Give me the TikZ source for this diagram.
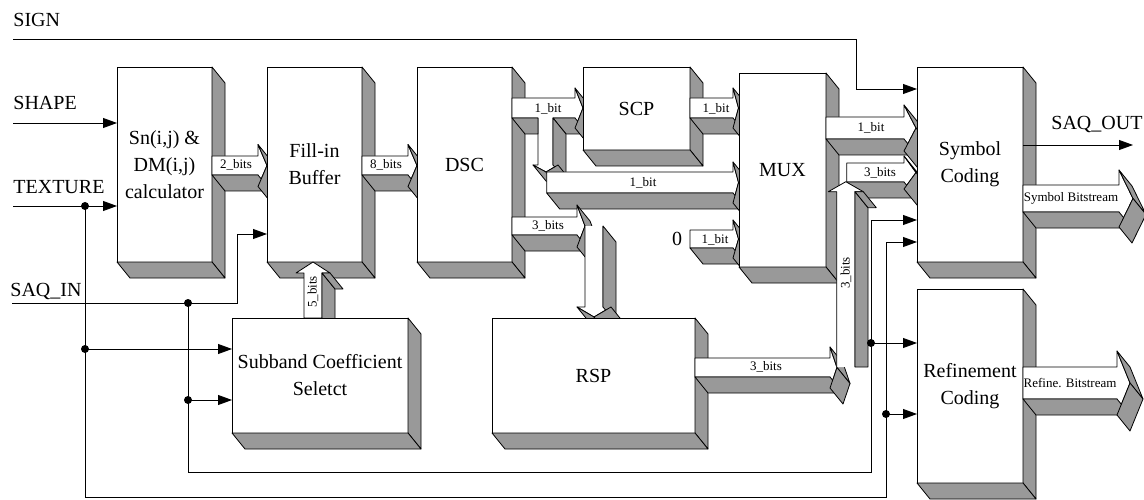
\documentclass[tikz,border=0pt]{standalone}
\usepackage{fontspec}
\setmainfont{Liberation Serif}
\usetikzlibrary{calc,arrows.meta}
\definecolor{sh}{RGB}{153,153,153}
\newcommand\bigf{\fontsize{20}{27}\selectfont}
\newcommand\smf{\fontsize{13}{15}\selectfont}
% visible side face of an extruded edge
\newcommand\sface[2]{\filldraw[sf] #1 -- #2 -- ($#2+(13,16)$) -- ($#1+(13,16)$) -- cycle;}
\newcommand\boxfaces[1]{\sface{(#1.north east)}{(#1.south east)}\sface{(#1.south west)}{(#1.south east)}}
% right pointing 3D arrow: tail x, base x, tip x, top y, bottom y, barb
\newcommand\RArrow[6]{%
 \pgfmathsetmacro\ymid{(#4+#5)/2}%
 \pgfmathsetmacro\ytp{#4-#6}%
 \pgfmathsetmacro\ybt{#5+#6}%
 \filldraw[fr] (#1,#4) -- (#2,#4) -- (#2,\ytp) -- (#3,\ymid) -- (#2,\ybt) -- (#2,#5) -- (#1,#5) -- cycle;
 \sface{(#2,\ytp)}{(#3,\ymid)}
 \sface{(#1,#5)}{(#2,#5)}
 \sface{(#3,\ymid)}{(#2,\ybt)}
}
% up pointing 3D arrow: tail y, base y, tip y, left x, right x, barb
\newcommand\UArrow[6]{%
 \pgfmathsetmacro\xmid{(#4+#5)/2}%
 \pgfmathsetmacro\xlb{#4-#6}%
 \pgfmathsetmacro\xrb{#5+#6}%
 \filldraw[fr] (#4,#1) -- (#4,#2) -- (\xlb,#2) -- (\xmid,#3) -- (\xrb,#2) -- (#5,#2) -- (#5,#1) -- cycle;
 \sface{(#5,#2)}{(#5,#1)}
 \sface{(\xrb,#2)}{(#5,#2)}
}
\begin{document}
\begin{tikzpicture}[x=1pt,y=-1pt,line width=0.8pt,
 sf/.style={fill=sh,draw=black,line join=round},
 fr/.style={fill=white,draw=black,line join=round},
 box/.style={draw,fill=white,inner sep=0pt,outer sep=0pt,anchor=north west,align=center,font=\bigf},
 lab/.style={font=\smf,inner sep=0pt},
 inp/.style={font=\bigf,inner sep=0pt,anchor=base west},
 conn/.style={-{Triangle[length=14pt,width=10pt]}},
 dot/.style={circle,fill=black,draw=none,inner sep=0pt,minimum size=8pt}]
\useasboundingbox (0,0) rectangle (1144,500);

% Sn box
\node[box,minimum width=95pt,minimum height=195pt] (sn) at (117,67) {Sn(i,j) \&\\DM(i,j)\\calculator};
\boxfaces{sn}
\RArrow{212}{258}{267}{156}{175}{11.5}
\node[lab] (l2b) at (236,165) {2\_bits};

% Fill-in buffer
\node[box,minimum width=95pt,minimum height=195pt] (fib) at (267,67) {Fill-in\\Buffer};
\boxfaces{fib}
\RArrow{362}{408}{417}{156}{175}{11.5}
\node[lab] (l8b) at (386,165) {8\_bits};

% 5 bits up arrow
\UArrow{318}{273}{262}{304}{322}{8}
\node[lab,rotate=90] (l5b) at (313,292) {5\_bits};

% Subband
\node[box,minimum width=176pt,minimum height=115pt] (sub) at (232,318) {Subband Coefficient\\Seletct};
\boxfaces{sub}

% DSC
\node[box,minimum width=95pt,minimum height=195pt] (dsc) at (417,67) {DSC};
\boxfaces{dsc}

% DSC -> SCP with branch down
\filldraw[fr] (512,98) -- (575,98) -- (575,88) -- (583,108) -- (575,128) -- (575,118) -- (553,118) -- (553,165) -- (558,165) -- (546,172) -- (533,165) -- (538,165) -- (538,118) -- (512,118) -- cycle;
\filldraw[sf] (512,118) -- (538,118) -- (538,134) -- (525,134) -- cycle;
\sface{(553,118)}{(575,118)}
\sface{(553,118)}{(553,165)}
\sface{(575,88)}{(583,108)}
\sface{(583,108)}{(575,128)}
\sface{(546,172)}{(533,165)}
\sface{(558,165)}{(546,172)}
\node[lab] (l1a) at (548,109) {1\_bit};

% long 1 bit
\RArrow{546.7}{733}{738.5}{172}{193}{10}
\node[lab] (l1c) at (643,183) {1\_bit};

% 3 bits DSC -> RSP
\RArrow{512}{577}{585}{217}{235}{12}
\node[lab] (l3a) at (548,226) {3\_bits};
\fill[white] (585,226) -- (603,226) -- (603,307) -- (611,307) -- (594,317) -- (577,307) -- (585,307) -- cycle;
\draw[line join=round] (585,226) -- (585,307) -- (577,307) -- (594,317) -- (611,307) -- (603,307) -- (603,226);
\sface{(594,317)}{(577,307)}
\sface{(603,226)}{(603,307)}
\sface{(611,307)}{(594,317)}

% RSP
\node[box,minimum width=203pt,minimum height=115pt] (rsp) at (492,318) {RSP};
\boxfaces{rsp}

% SCP
\node[box,minimum width=107pt,minimum height=83pt] (scp) at (583,67) {SCP};
\boxfaces{scp}
\RArrow{690}{733}{738.5}{98}{118}{10}
\node[lab] (l1b) at (716,109) {1\_bit};
\RArrow{690}{733}{738.5}{230}{248}{10}
\node[lab] (l1d) at (715,240) {1\_bit};
\node[font=\bigf,inner sep=0pt] (zero) at (677,239) {0};

% MUX
\node[box,minimum width=87pt,minimum height=194pt] (mux) at (739,73) {MUX};
\boxfaces{mux}
\RArrow{826}{904}{916}{117}{139}{12}
\node[lab] (l1e) at (871,128) {1\_bit};
\RArrow{846.7}{904}{916}{163}{182}{7}
\node[lab] (l3c) at (880,173) {3\_bits};

% RSP -> up
\RArrow{695}{830}{837}{358}{377}{11}
\node[lab] (l3b) at (766,367) {3\_bits};
\fill[white] (836.7,367) -- (836.7,191.7) -- (828.3,191.7) -- (845.8,181.7) -- (863.3,191.7) -- (855,191.7) -- (855,367) -- cycle;
\draw[line join=round] (836.7,367) -- (836.7,191.7) -- (828.3,191.7) -- (845.8,181.7) -- (863.3,191.7) -- (855,191.7) -- (855,367);
\filldraw[sf] (855,191.7) -- (868,207.7) -- (868,367) -- (855,367) -- cycle;
\sface{(863.3,191.7)}{(855,191.7)}
\node[lab,rotate=90] (l3d) at (846,273) {3\_bits};

% Symbol coding
\node[box,minimum width=106pt,minimum height=195pt] (sym) at (917,67) {Symbol\\Coding};
\boxfaces{sym}
\RArrow{1023}{1119}{1133}{185}{212}{15}
\node[lab] (lsb) at (1071,198) {Symbol Bitstream};

% Refinement coding
\node[box,minimum width=106pt,minimum height=194pt] (ref) at (917,289) {Refinement\\Coding};
\boxfaces{ref}
\RArrow{1023}{1117}{1130}{367}{399}{16}
\node[lab] (lrb) at (1070,383) {Refine. Bitstream};

% inputs
\node[inp] (sign) at (13,26.7) {SIGN};
\node[inp] (shape) at (13,110) {SHAPE};
\node[inp] (texture) at (13,193.3) {TEXTURE};
\node[inp] (saqin) at (10,296.7) {SAQ\_IN};
\node[inp] (saqout) at (1051,130) {SAQ\_OUT};

% thin connectors
\coordinate (signL) at (13,39);
\coordinate (sgC) at (856,89);
\draw[conn] (signL) -| (sgC) -- (sgC -| sym.west);
\coordinate (shapeL) at (13,123);
\draw[conn] (shapeL) -- (shapeL -| sn.west);
\coordinate (texL) at (13,206);
\draw[conn] (texL) -- (texL -| sn.west);
\node[dot] (dt1) at (85,206) {};
\coordinate (br1) at (886,497);
\coordinate (sy2) at (886,242);
\draw[conn] (dt1.center) |- (br1) -- (sy2) -- (sy2 -| sym.west);
\node[dot] (dt2) at (85,349) {};
\draw[conn] (dt2.center) -- (dt2 -| sub.west);
\node[dot] (dt3) at (886,414) {};
\draw[conn] (dt3.center) -- (dt3 -| ref.west);
\coordinate (saqL) at (12,303);
\coordinate (sq1) at (237,234);
\draw[conn] (saqL) -| (sq1) -- (sq1 -| fib.west);
\node[dot] (dt4) at (188,303) {};
\coordinate (br2) at (871,472);
\coordinate (sy1) at (871,220);
\draw[conn] (dt4.center) |- (br2) -- (sy1) -- (sy1 -| sym.west);
\node[dot] (dt5) at (188,400) {};
\draw[conn] (dt5.center) -- (dt5 -| sub.west);
\node[dot] (dt6) at (871,343) {};
\draw[conn] (dt6.center) -- (dt6 -| ref.west);
\coordinate (so) at (1133,145);
\draw[conn] (so -| sym.east) -- (so);
\end{tikzpicture}
\end{document}
